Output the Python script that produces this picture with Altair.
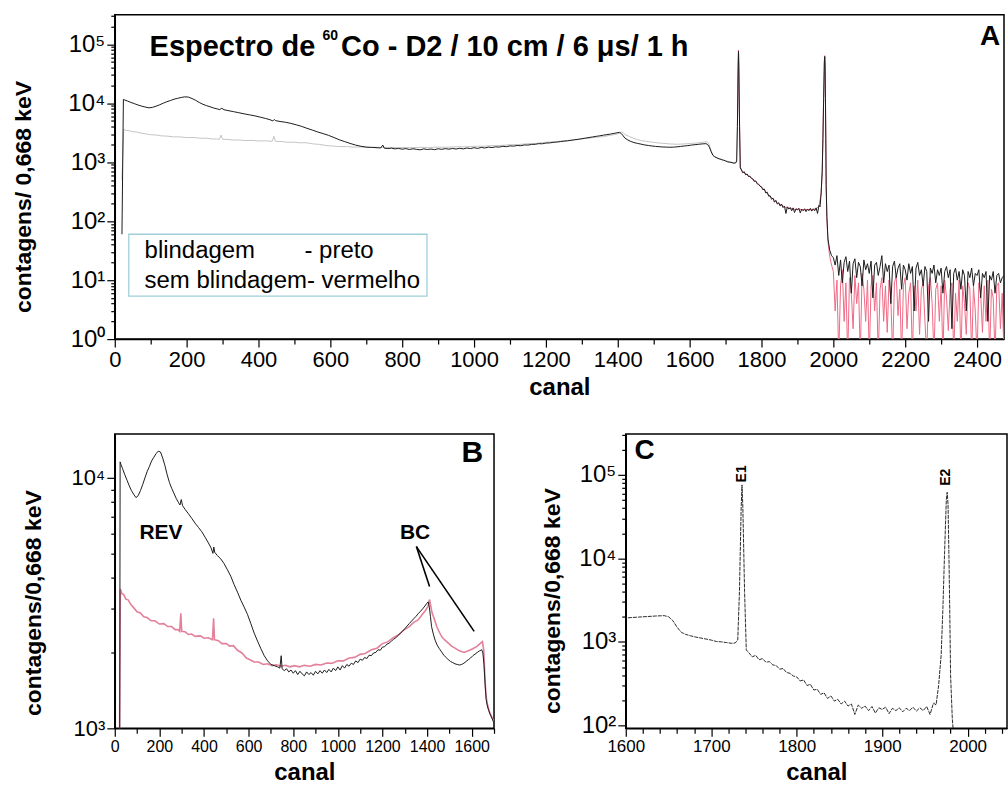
import altair as alt
import pandas as pd

FONT = "Liberation Sans"

# ---------------- data ----------------
# com blindagem (preto)
canal_preto = [20, 24, 28, 35, 45, 55, 65, 75, 85, 95, 105, 115, 125, 135, 145, 155, 165, 175, 185, 195,
               205, 215, 225, 235, 245, 255, 265, 275, 285, 292, 298, 304, 315, 330, 345, 360, 375, 390, 405, 420,
               432, 440, 444, 448, 460, 475, 490, 505, 520, 535, 550, 565, 580, 595, 610, 625, 640, 655, 670, 685,
               700, 715, 730, 740, 746, 750,
               760, 770, 780, 790, 800, 810, 820, 830, 840, 850, 860, 870, 880, 890, 900, 910, 920, 930, 940, 950,
               960, 970, 980, 990, 1000, 1010, 1020, 1030, 1040, 1050, 1060, 1070, 1080, 1090, 1100, 1110, 1120, 1130,
               1140, 1150, 1160, 1170, 1180, 1190, 1200, 1210, 1220, 1230, 1240, 1250, 1260, 1270, 1280, 1290, 1300,
               1310, 1320, 1330, 1340, 1350, 1360, 1370, 1380, 1390, 1398, 1405, 1410, 1415, 1420, 1428, 1436, 1445,
               1455, 1465, 1475, 1485, 1495, 1505, 1515, 1525, 1535, 1545, 1555, 1565, 1575, 1585, 1595, 1605, 1615,
               1625, 1635, 1645, 1650,
               1655, 1660, 1665, 1670, 1676, 1682, 1688, 1694, 1700, 1706, 1712, 1718, 1724, 1728, 1731, 1733, 1735,
               1736, 1737, 1739, 1741, 1744, 1748, 1752, 1756, 1760, 1764, 1768, 1772, 1776, 1780, 1784, 1788, 1792,
               1796, 1800, 1804, 1808, 1812, 1816, 1820, 1824, 1828, 1832, 1836, 1840, 1844, 1848, 1852, 1856, 1860,
               1864, 1868, 1872, 1876, 1880, 1884, 1888, 1892, 1896, 1900, 1904, 1908, 1912, 1916, 1920, 1924, 1928,
               1932, 1936, 1940, 1944, 1948, 1952, 1956, 1960, 1963, 1966, 1969, 1971, 1973, 1975, 1976, 1977, 1978,
               1979, 1980, 1982, 1985, 1990, 1995]
cont_preto = [60, 11600, 11300, 10900, 10300, 9800, 9300, 8900, 8600, 8350, 8500, 8900, 9400, 10000, 10600, 11100,
              11700, 12100, 12500, 12800,
              12700, 12000, 11200, 10300, 9600, 9100, 8700, 8300, 8000, 7800, 8200, 7750, 7500, 7200, 6900, 6600,
              6350, 6100, 5800, 5500,
              5250, 5000, 5300, 5050, 4900, 4750, 4550, 4300, 4050, 3750, 3500, 3250, 3050, 2850, 2620, 2400, 2230,
              2080, 1950, 1860,
              1800, 1780, 1760, 1740, 1950, 1730,
              1700, 1730, 1680, 1710, 1660, 1700, 1640, 1690, 1650, 1620, 1680, 1640, 1670, 1630, 1690, 1650, 1700,
              1660, 1710, 1670,
              1720, 1680, 1740, 1700, 1760, 1710, 1780, 1740, 1800, 1770, 1820, 1800, 1860, 1830, 1890, 1870, 1920,
              1900,
              1960, 1950, 2000, 2010, 2060, 2050, 2110, 2120, 2170, 2190, 2230, 2270, 2300, 2350, 2400, 2440, 2500,
              2560, 2620, 2680, 2740, 2800, 2870, 2930, 3000, 3080, 3150, 3200, 3050, 2800, 2550, 2380, 2250, 2150,
              2080, 2020, 1960, 1920, 1880, 1850, 1830, 1810, 1800, 1790, 1800, 1820, 1850, 1880, 1910, 1950, 1980,
              2010, 2040, 2060, 2000,
              1800, 1500, 1300, 1230, 1180, 1140, 1110, 1080, 1050, 1010, 1000, 980, 960, 970, 1050, 4000, 40000,
              76000, 40000, 4000, 800, 740, 660, 690, 610, 630, 570, 580, 530, 520, 470, 480, 430, 420,
              390, 380, 340, 350, 300, 310, 265, 270, 235, 245, 210, 225, 195, 205, 180, 195, 170,
              180, 135, 175, 160, 170, 150, 168, 140, 162, 155, 165, 138, 160, 150, 162, 145, 160,
              150, 165, 148, 162, 150, 168, 135, 185, 175, 300, 700, 2500, 12000, 50000, 62000, 45000, 12000,
              2500, 400, 120, 50, 32, 26]

# sem blindagem (vermelho)
canal_verm = [20, 25, 32, 40, 50, 60, 72, 89, 100, 115, 130, 145, 163, 180, 200, 220, 237, 255, 270, 283,
              291, 296, 300, 315, 330, 345, 360, 384, 400, 420, 438, 443, 447, 465, 480, 500, 515, 532, 550, 570,
              590, 606, 625, 645, 665, 685, 705, 725, 745, 765, 785, 805, 828, 850, 875, 900, 925, 950, 975, 1000,
              1025, 1050, 1075, 1100, 1123, 1150, 1175, 1200, 1225, 1250, 1271, 1295, 1320, 1340, 1360, 1380, 1392,
              1404, 1411, 1416, 1422, 1433, 1444, 1455, 1466, 1478, 1495, 1510, 1525, 1545, 1566, 1585, 1605, 1625,
              1640, 1648, 1654, 1659, 1664, 1670, 1680, 1690, 1700, 1712, 1724, 1730, 1733, 1735, 1736, 1737, 1739,
              1741, 1748, 1760, 1772, 1784, 1796, 1808, 1820, 1832, 1844, 1856, 1868, 1880, 1892, 1904, 1916, 1928,
              1940, 1952, 1960, 1966, 1969, 1971, 1973, 1975, 1976, 1977, 1978, 1979, 1980, 1982, 1985, 1990, 1995]
cont_verm = [500, 3600, 3450, 3420, 3280, 3260, 3120, 3000, 2920, 2890, 2790, 2770, 2690, 2690, 2610, 2620, 2550,
             2550, 2480, 2480,
             2440, 2880, 2440, 2430, 2370, 2380, 2330, 2340, 2290, 2300, 2260, 2750, 2260, 2240, 2180, 2180, 2130,
             2140, 2050, 2000,
             1910, 1880, 1840, 1840, 1800, 1810, 1780, 1795, 1770, 1785, 1760, 1780, 1760, 1785, 1770, 1800, 1790,
             1825, 1820, 1860,
             1860, 1910, 1920, 1975, 1990, 2060, 2090, 2180, 2220, 2310, 2360, 2470, 2550, 2650, 2710, 2860, 2950,
             3070, 3270, 3100, 2900, 2720, 2540, 2420, 2320, 2260, 2190, 2130, 2090, 2040, 2010, 2040, 2080, 2130,
             2190, 2220, 2050, 1600, 1350, 1250, 1160, 1110, 1060, 1010, 975, 1000, 4500, 45000, 80000, 42000, 4200,
             820, 680, 610, 540, 470, 400, 340, 275, 240, 205, 185, 170, 165, 158, 160, 155, 158,
             156, 162, 180, 290, 680, 2600, 13000, 52000, 64000, 46000, 12500, 2600, 420, 110, 45, 25, 18]

# ruido acima do canal 2000
ruido_canal = list(range(2000, 2476, 5))
ruido_preto = [24, 18, 26, 12, 22, 9, 20, 25, 14, 21, 6, 19, 23, 11, 20, 17, 8, 22, 15, 19,
               13, 21, 5, 18, 20, 12, 17, 26, 9, 19, 14, 18, 4, 17, 21, 11, 16, 19, 7, 18,
               15, 10, 19, 13, 17, 3, 16, 20, 12, 15, 8, 17, 14, 2, 16, 13, 18, 9, 15, 12,
               16, 6, 14, 17, 11, 15, 1.5, 13, 16, 10, 14, 7, 15, 12, 3, 14, 11, 16, 8, 13,
               12, 15, 5, 13, 11, 14, 2, 12, 10, 14, 6, 12, 13, 9, 11, 12]
ruido_verm = [14, 3, 10, 0.5, 8, 15, 2, 9, 0.5, 11, 6, 1.5, 12, 4, 9, 0.5, 13, 7, 2, 10,
              0.5, 8, 12, 3, 9, 0.5, 7, 11, 2, 8, 1.3, 10, 5, 0.5, 9, 12, 2.5, 7, 0.5, 8,
              11, 1.5, 6, 9, 0.5, 8, 3, 10, 1.2, 7, 9, 2, 0.5, 8, 11, 4, 0.5, 7, 9, 2,
              8, 0.5, 10, 5, 1.4, 7, 9, 0.5, 6, 2, 10, 0.5, 8, 4, 1.2, 9, 7, 0.5, 8, 3,
              0.5, 9, 6, 1.3, 8, 2, 10, 0.5, 7, 5, 0.5, 8, 9, 1.5, 6, 0.5]

titulo_A = ["Espectro de", "60", "Co - D2 / 10 cm / 6 \u03bcs/ 1 h"]
legenda_linhas = ["blindagem", "- preto", "sem blindagem- vermelho"]

df_p = pd.DataFrame({"canal": canal_preto + ruido_canal, "cont": cont_preto + ruido_preto})
df_v = pd.DataFrame({"canal": canal_verm + ruido_canal, "cont": cont_verm + ruido_verm})

LOGTEST = "abs(log(datum.value)/LN10 - round(log(datum.value)/LN10)) < 0.001"
LOGLABEL = (LOGTEST + " ? '10' + ['\u2070','\u00b9','\u00b2','\u00b3','\u2074','\u2075','\u2076']"
            "[round(log(datum.value)/LN10)] : ''")


def log_values(lo, hi):
    return [m * 10 ** e for e in range(0, 7) for m in range(1, 10) if lo <= m * 10 ** e <= hi]


def x_enc(domain, values, major, label_size, title_size, field="canal"):
    return alt.X(f"{field}:Q",
                 scale=alt.Scale(domain=domain, nice=False, zero=False),
                 axis=alt.Axis(title="canal", values=values, format="d",
                               labelExpr=f"datum.value % {major} === 0 ? datum.label : ''",
                               tickSize={"condition": {"test": f"datum.value % {major} === 0", "value": 8},
                                         "value": 5},
                               labelFontSize=label_size, titleFontSize=title_size,
                               labelPadding=2, titlePadding=6, labelOverlap=False, labelFlush=False,
                               grid=False))


def y_enc(domain, title, label_size, title_size, extent, tpad, title_y, field="cont"):
    return alt.Y(f"{field}:Q",
                 scale=alt.Scale(type="log", domain=domain, nice=False),
                 axis=alt.Axis(title=title, values=log_values(domain[0], domain[1]), labelExpr=LOGLABEL,
                               tickSize={"condition": {"test": LOGTEST, "value": 8}, "value": 4},
                               labelFontSize={"condition": {"test": LOGTEST, "value": label_size}, "value": 1},
                               titleFontSize=title_size, titleY=title_y,
                               labelPadding=2, titlePadding=tpad, minExtent=extent, maxExtent=extent,
                               labelOverlap=False, labelFlush=False, grid=False))


def txt(df, size, weight="bold", align="left", baseline="middle", angle=0):
    return alt.Chart(df).mark_text(font=FONT, fontSize=size, fontWeight=weight, align=align,
                                   baseline=baseline, angle=angle, color="black", clip=False)


# ---------------- panel A ----------------
xA = x_enc([0, 2475], list(range(0, 2500, 100)), 200, 22, 24)
yA = y_enc([1, 316000], "contagens/ 0,668 keV", 24, 23, 45, 34, 182)

red_low = alt.Chart(df_v).transform_filter("datum.canal <= 1733").mark_line(
    color="#c4c4c4", strokeWidth=1, clip=True).encode(x=xA, y=yA)
red_high = alt.Chart(df_v).transform_filter("datum.canal >= 1733").mark_line(
    color="#ef6a86", strokeWidth=1, clip=True).encode(x=xA, y=yA)
blk_A = alt.Chart(df_p).mark_line(color="#1c1c1c", strokeWidth=1, clip=True).encode(x=xA, y=yA)

leg_box = alt.Chart(pd.DataFrame({"canal": [39], "c2": [869], "cont": [60], "y2": [5.36]})).mark_rect(
    fill="white", stroke="#9fd0da", strokeWidth=1.3).encode(
    x=xA, x2="c2:Q", y=yA, y2="y2:Q")
leg_txt = txt(pd.DataFrame({"canal": [83, 528, 83], "cont": [31, 31, 9.6], "t": legenda_linhas}),
              24, weight="normal").encode(x=xA, y=yA, text="t:N")
tit_A = txt(pd.DataFrame({"canal": [97, 630], "cont": [62700, 62700], "t": [titulo_A[0], titulo_A[2]]}), 29,
            baseline="alphabetic").encode(x=xA, y=yA, text="t:N")
sup_A = txt(pd.DataFrame({"canal": [578], "cont": [137000], "t": [titulo_A[1]]}), 14).encode(
    x=xA, y=yA, text="t:N")
lab_A = txt(pd.DataFrame({"canal": [2408], "cont": [132000], "t": ["A"]}), 28).encode(
    x=xA, y=yA, text="t:N")

panelA = alt.layer(red_low, red_high, blk_A, leg_box, leg_txt, tit_A, sup_A, lab_A).properties(
    width=891, height=325)

# ---------------- panel B ----------------
xB = x_enc([0, 1700], list(range(0, 1800, 100)), 200, 16, 24)
yB = y_enc([1000, 15000], "contagens/0,668 keV", 22, 23, 45, 24, 169)

red_B = alt.Chart(df_v).mark_line(color="#e3809a", strokeWidth=1.6, clip=True).encode(x=xB, y=yB)
blk_B = alt.Chart(df_p).mark_line(color="#1c1c1c", strokeWidth=1, clip=True).encode(x=xB, y=yB)
ann_B = txt(pd.DataFrame({"canal": [207, 1346], "cont": [6030, 6030], "t": ["REV", "BC"]}), 21,
            align="center").encode(x=xB, y=yB, text="t:N")
seta_B = alt.Chart(pd.DataFrame({"canal": [1352, 1352], "c2": [1411, 1611],
                                 "cont": [5320, 5320], "y2": [3690, 2440]})).mark_rule(
    color="black", strokeWidth=1.6).encode(x=xB, x2="c2:Q", y=yB, y2="y2:Q")
lab_B = txt(pd.DataFrame({"canal": [1603], "cont": [12600], "t": ["B"]}), 30, align="center").encode(
    x=xB, y=yB, text="t:N")
panelB = alt.layer(red_B, blk_B, seta_B, ann_B, lab_B).properties(width=380, height=295)

# ---------------- panel C ----------------
xC = x_enc([1600, 2046], list(range(1600, 2047, 20)), 100, 17, 24)
yC = y_enc([92, 310000], "contagens/0,668 keV", 24, 23, 45, 16, 167)

blk_C = alt.Chart(df_p).mark_line(color="#2a2a2a", strokeWidth=1, strokeDash=[4, 1], clip=True).encode(
    x=xC, y=yC)
ann_C = txt(pd.DataFrame({"canal": [1736, 1975], "cont": [103000, 94000], "t": ["E1", "E2"]}), 14,
            align="center", angle=270).encode(x=xC, y=yC, text="t:N")
lab_C = txt(pd.DataFrame({"canal": [1622], "cont": [195000], "t": ["C"]}), 28, align="center").encode(
    x=xC, y=yC, text="t:N")
panelC = alt.layer(blk_C, ann_C, lab_C).properties(width=382, height=295)

chart = alt.vconcat(panelA, alt.hconcat(panelB, panelC, spacing=45), spacing=32).properties(
    padding={"left": 12, "top": 13, "right": 0, "bottom": 0},
    background="white",
).configure_view(stroke="black", strokeWidth=1.5).configure_axis(
    labelFont=FONT, titleFont=FONT, labelColor="black", titleColor="black", titleFontWeight="bold",
    domainColor="black", domainWidth=1.5, tickColor="black", tickWidth=1.2,
)

chart.save("out.html", embed_options={"renderer": "svg", "actions": False})
